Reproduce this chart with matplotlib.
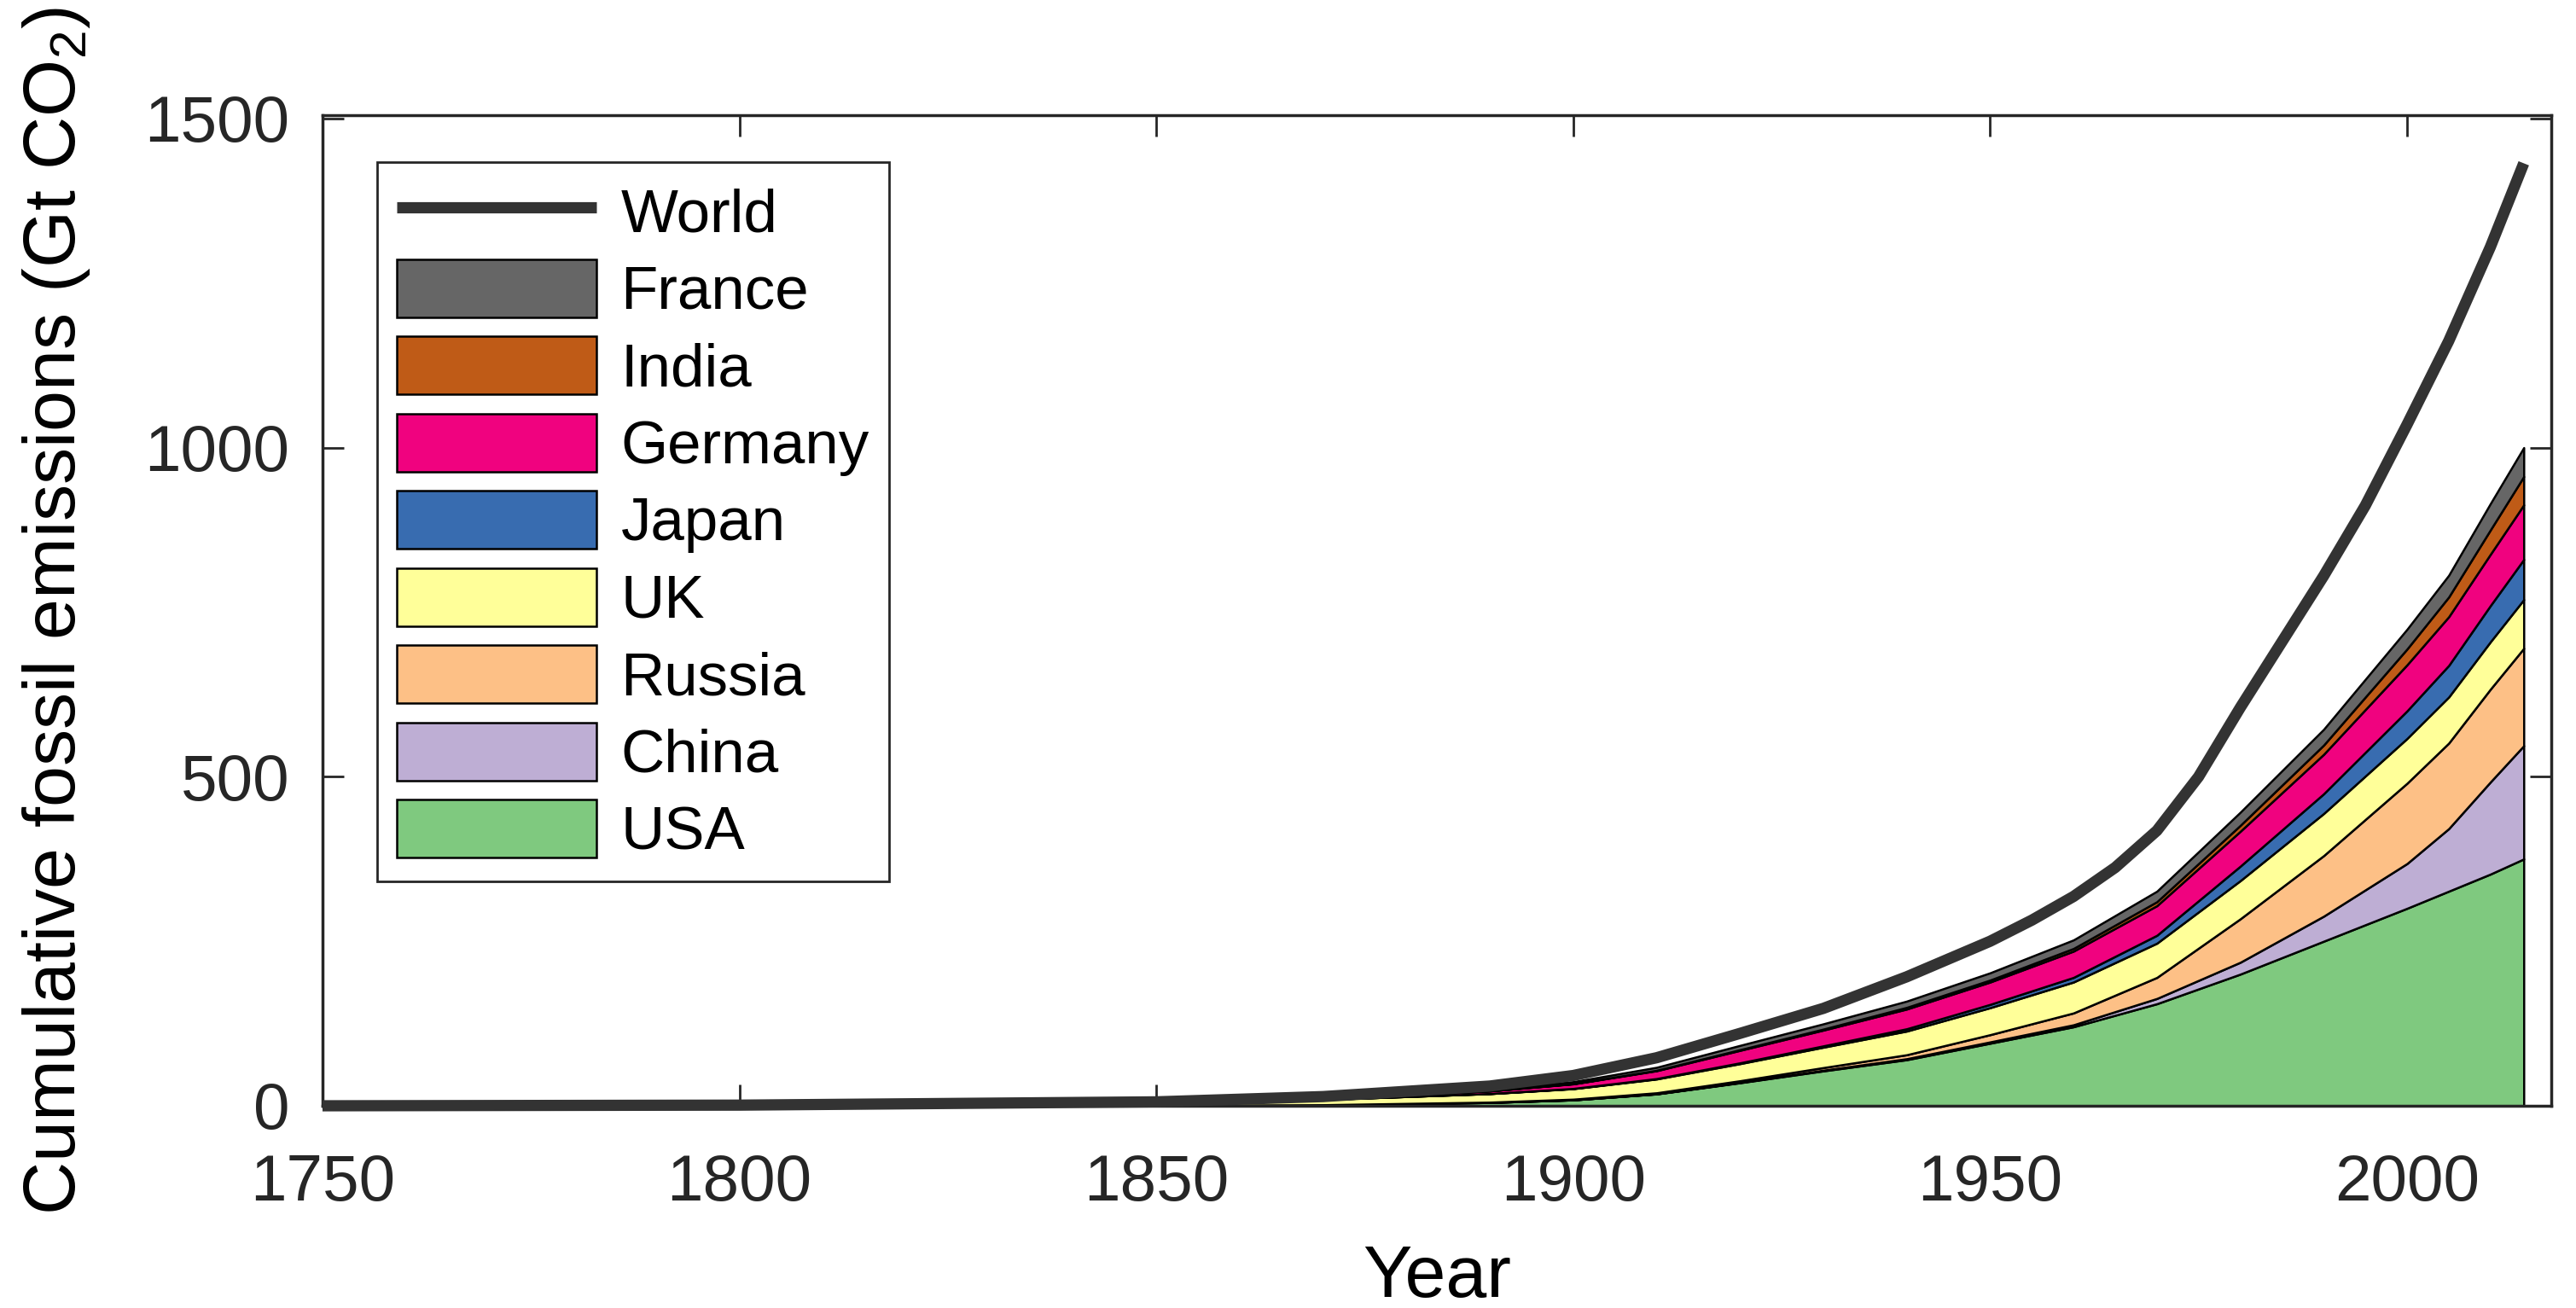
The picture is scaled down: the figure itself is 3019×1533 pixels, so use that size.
import numpy as np
import matplotlib.pyplot as plt

plt.rcParams['font.family'] = ['Liberation Sans', 'DejaVu Sans']
plt.rcParams['mathtext.fontset'] = 'custom'
plt.rcParams['mathtext.rm'] = 'Liberation Sans'
plt.rcParams['mathtext.it'] = 'Liberation Sans:italic'
plt.rcParams['text.color'] = '#262626'

# Cumulative fossil CO2 emissions by country, Gt CO2
years = [1750, 1800, 1850, 1870, 1890, 1900, 1910, 1920, 1930, 1940, 1950,
         1960, 1970, 1980, 1990, 2000, 2005, 2010, 2014]
usa = [0, 0.1, 0.5, 1.5, 5, 9, 18, 35, 53, 70, 95,
       120, 155, 200, 250, 300, 326, 352, 375]
china = [0, 0, 0, 0, 0, 0, 0.2, 0.5, 1, 1.5, 2,
         3, 8, 18, 38, 68, 95, 140, 172]
russia = [0, 0, 0, 0.1, 0.5, 1, 1.5, 2.5, 4, 6, 11,
          18, 32, 66, 92, 122, 130, 141, 148]
uk = [0, 0.5, 4, 8, 13, 16, 21, 26, 31, 36, 41,
      47, 52, 58, 64, 68, 70, 72, 74]
japan = [0, 0, 0, 0, 0.1, 0.3, 0.6, 1.2, 2, 3.5, 5,
         7, 12, 22, 30, 42, 48, 55, 61]
germany = [0, 0, 0.3, 1, 4, 7, 12, 19, 24, 30, 34,
           40, 45, 53, 60, 70, 74, 78, 83]
india = [0, 0, 0, 0, 0.1, 0.3, 0.6, 1, 1.5, 2.5, 3,
         4, 6, 9, 14, 24, 30, 37, 43]
france = [0, 0, 0.2, 0.7, 2, 3, 4.5, 6.5, 8, 9.5, 11,
          13, 16, 20, 24, 30, 33, 40, 44]

world_years = [1750, 1800, 1850, 1870, 1890, 1900, 1910, 1920, 1930, 1940,
               1950, 1955, 1960, 1965, 1970, 1975, 1980, 1985, 1990, 1995,
               2000, 2005, 2010, 2014]
world = [0, 1, 6, 14, 30, 46, 73, 110, 148, 196,
         250, 282, 318, 362, 418, 500, 605, 705, 805, 912,
         1035, 1162, 1305, 1432]

countries = ['USA', 'China', 'Russia', 'UK', 'Japan', 'Germany', 'India',
             'France']
colors = ['#7FC97F', '#BEAED4', '#FDC086', '#FFFF99', '#386CB0', '#F0027F',
          '#BF5B17', '#666666']

fig = plt.figure(figsize=(30.19, 15.33), dpi=100)
ax = fig.add_axes([0.1252, 0.1546, 0.8652, 0.7573])

areas = ax.stackplot(years, usa, china, russia, uk, japan, germany, india,
                     france, colors=colors, edgecolor='black', linewidth=1.8,
                     zorder=2)
world_line, = ax.plot(world_years, world, color='#333333', lw=9.5,
                      solid_capstyle='butt', clip_on=False, zorder=3)

ax.set_xlim(1750, 2017.3)
ax.set_ylim(0, 1505)
ax.set_xticks(np.arange(1750, 2001, 50))
ax.set_yticks([0, 500, 1000, 1500])
ax.tick_params(direction='in', length=18, width=2, colors='#262626',
               labelsize=55, top=True, right=True)
ax.tick_params(axis='x', pad=40)
ax.tick_params(axis='y', pad=28)
for sp in ax.spines.values():
    sp.set_linewidth(2.5)
    sp.set_color('#262626')

ax.set_xlabel('Year', fontsize=62, va='baseline')
ax.xaxis.set_label_coords(0.5, (1296 - 1520) / 1161)
ax.set_ylabel(r'Cumulative fossil emissions (Gt CO$_2$)', fontsize=62,
              va='baseline')
ax.yaxis.set_label_coords((88 - 378) / 2612, 0.5)

handles = [world_line] + areas[::-1]
labels = ['World'] + countries[::-1]
leg = ax.legend(handles, labels, loc='upper left',
                bbox_to_anchor=(0.0245, 0.9526), borderaxespad=0,
                fontsize=51, handlelength=3.3, handleheight=1.1,
                handletextpad=0.4, labelspacing=0.245, borderpad=0.33,
                fancybox=False, framealpha=1, labelcolor='black')
leg.get_frame().set_edgecolor('#262626')
leg.get_frame().set_linewidth(2)

fig.savefig('out.png', dpi=100)
